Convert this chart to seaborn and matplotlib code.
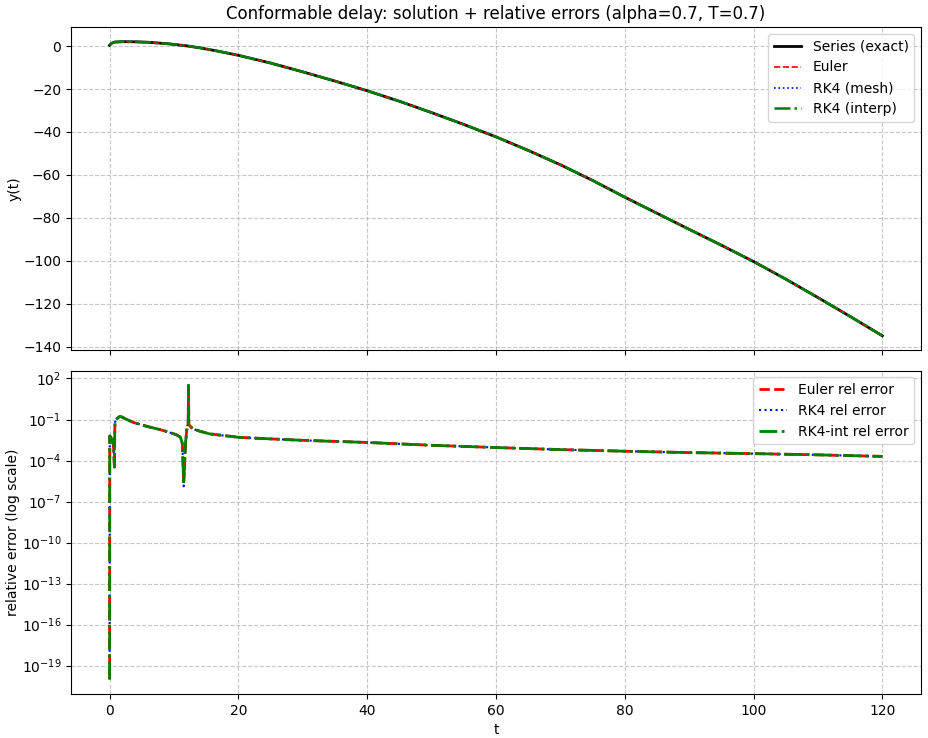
import numpy as np
import pandas as pd
import matplotlib
matplotlib.use("Agg")
import matplotlib.pyplot as plt
import seaborn as sns

# ---- solution data (top panel) ----
t_sol = [0, 0.3, 0.8, 2, 4, 6, 9, 10, 12, 14, 17, 20, 25, 30, 35, 40, 45, 50, 55,
         60, 65, 70, 75, 80, 85, 90, 95, 100, 105, 110, 115, 120]
y_exact = [0.4, 1.3, 1.9, 2.05, 2.0, 1.8, 1.1, 0.8, 0.1, -0.8, -2.45, -4.3, -7.9, -12.0,
           -16.3, -20.8, -25.7, -31.0, -36.5, -42.3, -48.6, -55.3, -62.6, -70.4, -77.9,
           -85.4, -92.8, -100.4, -108.6, -117.2, -126.0, -135.0]
y_euler = list(y_exact)
y_rk4_mesh = list(y_exact)
y_rk4_interp = list(y_exact)

# ---- relative error data (bottom panel) ----
t_err = [0, 0.02, 0.2, 0.4, 0.6, 0.75, 0.8, 0.85, 1.0, 1.5, 1.8, 2.5, 3.6, 5, 6.2, 7.5,
         8.8, 10.0, 10.5, 11.0, 11.3, 11.5, 11.8, 12.05, 12.2, 12.25, 12.3, 12.4, 12.9,
         14, 15.5, 20, 25, 30, 40, 50, 60, 70, 80, 90, 100, 110, 120]
err_euler = [1e-20, 6.3e-3, 5.0e-3, 3.2e-3, 1.3e-3, 3.2e-5, 1.6e-2, 6.3e-2, 1.0e-1,
             1.6e-1, 1.6e-1, 1.1e-1, 6.3e-2, 4.0e-2, 2.8e-2, 2.0e-2, 1.35e-2, 8.9e-3,
             7.1e-3, 5.0e-3, 1.66e-3, 1.8e-6, 2.2e-3, 3.5e-2, 4.0e-2, 32.0, 5.0e-2,
             3.7e-2, 2.1e-2, 1.4e-2, 8.9e-3, 5.0e-3, 3.8e-3, 3.0e-3, 2.1e-3, 1.3e-3,
             8.9e-4, 6.3e-4, 4.8e-4, 3.8e-4, 3.2e-4, 2.6e-4, 2.0e-4]
err_rk4 = [1e-20, 6.3e-3, 5.0e-3, 3.2e-3, 1.3e-3, 3.2e-5, 1.6e-2, 6.3e-2, 1.0e-1,
           1.6e-1, 1.6e-1, 1.1e-1, 6.3e-2, 4.0e-2, 2.8e-2, 2.0e-2, 1.35e-2, 8.9e-3,
           7.1e-3, 5.0e-3, 1.66e-3, 1.3e-6, 2.2e-3, 3.5e-2, 4.0e-2, 32.0, 5.0e-2,
           3.7e-2, 2.1e-2, 1.4e-2, 8.9e-3, 5.0e-3, 3.8e-3, 3.0e-3, 2.1e-3, 1.3e-3,
           8.9e-4, 6.3e-4, 4.8e-4, 3.8e-4, 3.2e-4, 2.6e-4, 2.0e-4]
err_rk4_int = list(err_euler)

plt.rcParams['font.family'] = ['DejaVu Sans']

fig, (ax1, ax2) = plt.subplots(2, 1, figsize=(9.29, 7.38), dpi=100, sharex=True)
fig.subplots_adjust(left=0.0764, right=0.9914, top=0.9634, bottom=0.0596, hspace=0.062)

sol = pd.DataFrame({"t": t_sol, "exact": y_exact, "euler": y_euler,
                    "mesh": y_rk4_mesh, "interp": y_rk4_interp})
sns.lineplot(data=sol, x="t", y="exact", ax=ax1, color="black", linewidth=2,
             label="Series (exact)", estimator=None, zorder=2.2)
sns.lineplot(data=sol, x="t", y="euler", ax=ax1, color="red", linewidth=1.2,
             linestyle="--", label="Euler", estimator=None, zorder=2.3)
sns.lineplot(data=sol, x="t", y="mesh", ax=ax1, color="blue", linewidth=1.2,
             linestyle=":", label="RK4 (mesh)", estimator=None, zorder=2.0)
sns.lineplot(data=sol, x="t", y="interp", ax=ax1, color="green", linewidth=1.8,
             linestyle="-.", label="RK4 (interp)", estimator=None, zorder=2.4)
ax1.set_ylabel("y(t)", labelpad=1)
ax1.set_xlabel("")
ax1.set_title("Conformable delay: solution + relative errors (alpha=0.7, T=0.7)", fontsize=12)
ax1.grid(True, linestyle="--", alpha=0.7)
ax1.legend(loc="upper right")

err = pd.DataFrame({"t": t_err, "euler": err_euler, "rk4": err_rk4, "rk4i": err_rk4_int})
sns.lineplot(data=err, x="t", y="euler", ax=ax2, color="red", linewidth=2,
             linestyle="--", label="Euler rel error", estimator=None, zorder=2.2)
sns.lineplot(data=err, x="t", y="rk4", ax=ax2, color="blue", linewidth=1.5,
             linestyle=":", label="RK4 rel error", estimator=None, zorder=2.0)
sns.lineplot(data=err, x="t", y="rk4i", ax=ax2, color="green", linewidth=2,
             linestyle="-.", label="RK4-int rel error", estimator=None, zorder=2.4)
ax2.set_yscale("log")
ax2.set_ylabel("relative error (log scale)", labelpad=1)
ax2.set_xlabel("t")
ax2.grid(True, linestyle="--", alpha=0.7)
ax2.legend(loc="upper right")

fig.savefig("out.png", dpi=100)
